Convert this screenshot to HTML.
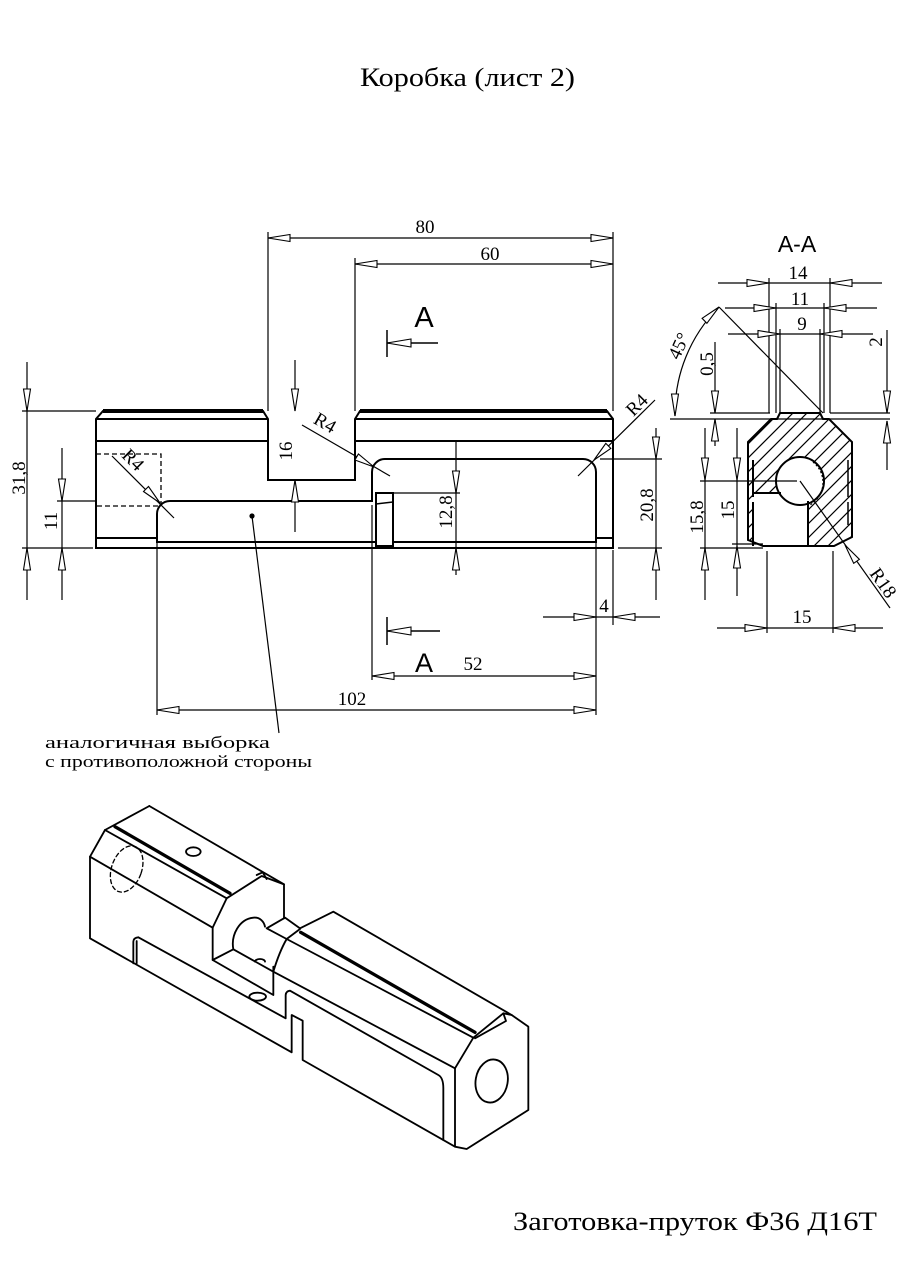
<!DOCTYPE html>
<html><head><meta charset="utf-8"><style>html,body{margin:0;padding:0;background:#fff}svg{display:block}</style></head>
<body>
<svg width="905" height="1280" viewBox="0 0 905 1280" xmlns="http://www.w3.org/2000/svg">
<rect width="905" height="1280" fill="#fff"/>

<!-- Titles -->
<g font-family="Liberation Serif, serif" fill="#000">
<text x="360" y="86" font-size="26" textLength="215" lengthAdjust="spacingAndGlyphs">Коробка (лист 2)</text>
<text x="513" y="1230" font-size="26" textLength="364" lengthAdjust="spacingAndGlyphs">Заготовка-пруток Ф36 Д16Т</text>
<text x="45" y="748" font-size="17" textLength="225" lengthAdjust="spacingAndGlyphs">аналогичная выборка</text>
<text x="45" y="767" font-size="17" textLength="267" lengthAdjust="spacingAndGlyphs">с противоположной стороны</text>
</g>

<!-- Main view outline -->
<g fill="none" stroke="#000" stroke-width="2" stroke-linejoin="miter">
<path d="M96,548 L96,419 L103,411 L263,411 L268,419 L268,480 L355,480 L355,419 L360,411 L607,411 L613,419 L613,548 Z"/>
<path d="M103,411 L263,411 M360,411 L607,411" stroke-width="4"/>
<path d="M96,419 L268,419 M355,419 L613,419 M96,441 L268,441 M355,441 L613,441"/>
<path d="M157,542 L157,514 A13,13 0 0 1 170,501 L372,501 L372,472 A13,13 0 0 1 385,459 L583,459 A13,13 0 0 1 596,472 L596,542 Z"/>
<path d="M96,538 L157,538 M596,538 L613,538"/>
<rect x="376" y="493" width="17" height="53" fill="#fff"/>
<path d="M376,504 L393,502" stroke-width="1.5"/>
<path d="M96,454 L161,454 L161,506 L96,506" stroke-width="1.3" stroke-dasharray="5,3"/>
</g>
<circle cx="252" cy="516" r="2.6" fill="#000"/>

<!-- Main view dimension lines -->
<g fill="none" stroke="#000" stroke-width="1.2">
<path d="M268,232 L268,411 M613,232 L613,411 M355,258 L355,411"/>
<path d="M268,238 L613,238 M355,264 L613,264"/>
<path d="M22,411 L96,411 M22,548 L93,548 M57,501 L96,501"/>
<path d="M27,362 L27,600 M62,448 L62,600"/>
<path d="M295,360 L295,411 M295,480 L295,532"/>
<path d="M456,441 L456,575 M393,493 L460,493"/>
<path d="M656,428 L656,600 M600,459 L662,459 M618,548 L662,548"/>
<path d="M157,542 L157,715 M372,505 L372,680 M596,542 L596,715 M613,550 L613,625"/>
<path d="M543,617 L660,617"/>
<path d="M372,676 L596,676 M157,710 L596,710"/>
<path d="M387,330 L387,357 M387,343 L438,343 M387,617 L387,645 M387,631 L440,631" stroke-width="1.5"/>
<path d="M252,516 L279,733"/>
<path d="M112,456 L174,518 M302,425 L390,476 M655,400 L578,476"/>
</g>
<g fill="#fff" stroke="#000" stroke-width="1.1">
<polygon points="268,238 290,234.5 290,241.5"/>
<polygon points="613,238 591,234.5 591,241.5"/>
<polygon points="355,264 377,260.5 377,267.5"/>
<polygon points="613,264 591,260.5 591,267.5"/>
<polygon points="27,411 23.5,389 30.5,389"/>
<polygon points="27,548 23.5,570 30.5,570"/>
<polygon points="62,501 58.5,479 65.5,479"/>
<polygon points="62,548 58.5,570 65.5,570"/>
<polygon points="295,411 291.5,389 298.5,389"/>
<polygon points="295,480 291.5,502 298.5,502"/>
<polygon points="456,493 452.5,471 459.5,471"/>
<polygon points="456,548 452.5,570 459.5,570"/>
<polygon points="656,459 652.5,437 659.5,437"/>
<polygon points="656,548 652.5,570 659.5,570"/>
<polygon points="596,617 574,613.5 574,620.5"/>
<polygon points="613,617 635,613.5 635,620.5"/>
<polygon points="372,676 394,672.5 394,679.5"/>
<polygon points="596,676 574,672.5 574,679.5"/>
<polygon points="157,710 179,706.5 179,713.5"/>
<polygon points="596,710 574,706.5 574,713.5"/>
<polygon points="387,343 411,339 411,347"/>
<polygon points="387,631 411,627 411,635"/>
<polygon points="160,503 143.5,491.5 148.5,486.5"/>
<polygon points="374,467 354.9,460 358.4,454"/>
<polygon points="594,460 610.8,448.4 605.8,443.4"/>
</g>

<!-- Main view texts -->
<g font-family="Liberation Serif, serif" font-size="19" fill="#000" text-anchor="middle">
<text x="425" y="233">80</text>
<text x="490" y="260">60</text>
<text x="473" y="670">52</text>
<text x="352" y="705">102</text>
<text x="604" y="612">4</text>
<text transform="translate(25,478) rotate(-90)">31,8</text>
<text transform="translate(57,521) rotate(-90)">11</text>
<text transform="translate(292,451) rotate(-90)">16</text>
<text transform="translate(452,512) rotate(-90)">12,8</text>
<text transform="translate(653,505) rotate(-90)">20,8</text>
<text transform="translate(133,460) rotate(45)" dy="6">R4</text>
<text transform="translate(325,423) rotate(30)" dy="6">R4</text>
<text transform="translate(637,405) rotate(-45)" dy="6">R4</text>
</g>
<g font-family="Liberation Sans, sans-serif" fill="#000" text-anchor="middle">
<text x="424" y="327" font-size="29">A</text>
<text x="424" y="672" font-size="27">A</text>
<text x="797" y="252" font-size="23">A-A</text>
</g>

<!-- Section A-A -->
<defs>
<clipPath id="secclip">
<polygon points="748,442 771,419 777,419 780,413 820,413 823,419 829,419 852,442 852,537 834,546 763,546 748,540"/>
</clipPath>
</defs>
<g clip-path="url(#secclip)" stroke="#000" stroke-width="1.2">
<path d="M750,400 L590,560 M764,400 L604,560 M778,400 L618,560 M792,400 L632,560 M806,400 L646,560 M820,400 L660,560 M834,400 L674,560 M848,400 L688,560 M862,400 L702,560 M876,400 L716,560 M890,400 L730,560 M904,400 L744,560 M918,400 L758,560 M932,400 L772,560 M946,400 L786,560 M960,400 L800,560 M974,400 L814,560 M988,400 L828,560 M1002,400 L842,560 M1016,400 L856,560"/>
</g>
<g fill="#fff" stroke="none">
<rect x="753" y="493" width="55" height="53"/>
<circle cx="800" cy="481" r="24"/>
</g>
<g fill="none" stroke="#000" stroke-width="2">
<polygon points="748,442 771,419 777,419 780,413 820,413 823,419 829,419 852,442 852,537 834,546 763,546 748,540"/>
<circle cx="800" cy="481" r="24"/>
<path d="M753,460 L753,497 M753,502 L753,546 M753,493 L781,493 M808,501 L808,546"/>
<path d="M848,460 L848,497 M848,502 L848,525" stroke-width="1.5"/>
</g>
<path d="M813,462 A26,26 0 0 1 808,506" fill="none" stroke="#000" stroke-width="1.2" stroke-dasharray="2,2"/>
<g fill="none" stroke="#000" stroke-width="1.2">
<path d="M718,283 L882,283 M725,308 L877,308 M728,334 L873,334"/>
<path d="M769,278 L769,413 M776,303 L776,413 M780,329 L780,413 M820,329 L820,413 M824,303 L824,413 M830,278 L830,413"/>
<path d="M719,307 L823,413"/>
<path d="M719,307 A150,150 0 0 0 675,416"/>
<path d="M670,419 L890,419 M710,413 L770,413 M830,413 L890,413"/>
<path d="M715,342 L715,413 M715,419 L715,446"/>
<path d="M887,330 L887,413 M887,421 L887,470"/>
<path d="M705,428 L705,600 M737,428 L737,596 M700,481 L797,481 M700,548 L763,548 M732,544 L763,544"/>
<path d="M717,628 L883,628 M767,551 L767,633 M833,551 L833,633"/>
<path d="M800,481 L890,608"/>
</g>
<g fill="#fff" stroke="#000" stroke-width="1.1">
<polygon points="769,283 747,279.5 747,286.5"/>
<polygon points="830,283 852,279.5 852,286.5"/>
<polygon points="776,308 754,304.5 754,311.5"/>
<polygon points="824,308 846,304.5 846,311.5"/>
<polygon points="780,334 758,330.5 758,337.5"/>
<polygon points="820,334 842,330.5 842,337.5"/>
<polygon points="719,307 706.9,323.3 702.1,318.3"/>
<polygon points="675,416 671.5,394 678.5,394"/>
<polygon points="715,413 711.5,391 718.5,391"/>
<polygon points="715,419 711.5,441 718.5,441"/>
<polygon points="887,413 883.5,391 890.5,391"/>
<polygon points="887,421 883.5,443 890.5,443"/>
<polygon points="705,480 701.5,458 708.5,458"/>
<polygon points="705,548 701.5,570 708.5,570"/>
<polygon points="737,480 733.5,458 740.5,458"/>
<polygon points="737,546 733.5,568 740.5,568"/>
<polygon points="767,628 745,624.5 745,631.5"/>
<polygon points="833,628 855,624.5 855,631.5"/>
<polygon points="845,545 859.4,559.3 853.7,563.3"/>
</g>
<g font-family="Liberation Serif, serif" font-size="19" fill="#000" text-anchor="middle">
<text x="798" y="279">14</text>
<text x="800" y="305">11</text>
<text x="802" y="330">9</text>
<text x="802" y="623">15</text>
<text transform="translate(713,364) rotate(-90)">0,5</text>
<text transform="translate(882,342) rotate(-90)">2</text>
<text transform="translate(703,517) rotate(-90)">15,8</text>
<text transform="translate(734,510) rotate(-90)">15</text>
<text transform="translate(679,346) rotate(-65)" dy="6">45°</text>
<text transform="translate(883,583) rotate(55)" dy="6">R18</text>
</g>

<!-- Isometric view -->
<g transform="translate(80,795) scale(0.333333)" fill="none" stroke="#000" stroke-width="5.5" stroke-linejoin="round" stroke-linecap="round">
<path d="M208,33 L75,105 L30,185 L30,430 L635,772 L635,660 L668,677 L668,795 L1125,1055 L1160,1062 L1345,945 L1345,695 L1295,660 L760,350 L660,400"/>
<path d="M208,33 L612,268 L612,370"/>
<path d="M75,105 L440,310"/>
<path d="M105,95 L450,295" stroke-width="10"/>
<path d="M30,185 L398,398"/>
<path d="M440,310 L545,243 L612,268"/>
<path d="M530,240 L548,232 L560,252"/>
<path d="M440,310 L398,398 L398,495 L580,600 L580,515"/>
<path d="M398,495 L460,463 L580,530"/>
<path d="M460,463 C452,420 478,372 520,368 C540,366 552,380 555,395"/>
<path d="M560,400 L615,368 L660,400 M560,400 L620,432"/>
<path d="M580,530 Q598,470 620,432 L660,402"/>
<path d="M620,432 L1180,728"/>
<path d="M662,412 L1185,712" stroke-width="10"/>
<path d="M580,530 L1125,820"/>
<path d="M1125,820 L1180,728 L1270,655 L1295,660"/>
<path d="M1270,655 L1278,678 L1185,730"/>
<path d="M1125,820 L1125,1055"/>
<path d="M175,427 L617,670 L617,600 Q618,588 630,587 L1075,840 Q1090,848 1090,880 L1090,1035"/>
<path d="M160,505 L160,440 Q161,428 175,427 M170,505 L170,438"/>
<ellipse cx="533" cy="605" rx="25" ry="12"/>
<path d="M525,500 A15,8 0 0 1 555,500"/>
<ellipse cx="340" cy="170" rx="22" ry="13"/>
<ellipse cx="1235" cy="858" rx="48" ry="65" transform="rotate(10 1235 858)"/>
<ellipse cx="140" cy="222" rx="45" ry="72" transform="rotate(20 140 222)" stroke-width="4" stroke-dasharray="12,9"/>
</g>
</svg>
</body></html>
